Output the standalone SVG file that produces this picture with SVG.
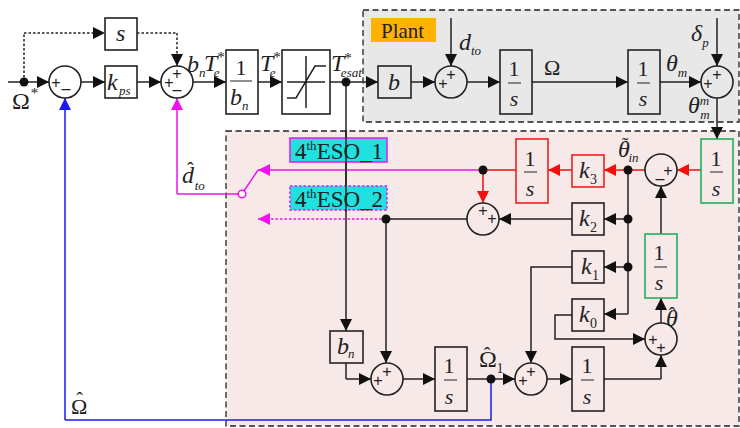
<svg xmlns="http://www.w3.org/2000/svg" width="740" height="428" viewBox="0 0 740 428">
<defs>
<marker id="ak" markerUnits="userSpaceOnUse" markerWidth="14" markerHeight="14" refX="13" refY="7" orient="auto"><path d="M1 1L13 7L1 13Z" fill="#111"/></marker>
<marker id="ar" markerUnits="userSpaceOnUse" markerWidth="14" markerHeight="14" refX="13" refY="7" orient="auto"><path d="M1 1L13 7L1 13Z" fill="#f01010"/></marker>
<marker id="am" markerUnits="userSpaceOnUse" markerWidth="14" markerHeight="14" refX="13" refY="7" orient="auto"><path d="M1 1L13 7L1 13Z" fill="#f010f0"/></marker>
<marker id="ab" markerUnits="userSpaceOnUse" markerWidth="14" markerHeight="14" refX="13" refY="7" orient="auto"><path d="M1 1L13 7L1 13Z" fill="#1a1af0"/></marker>
</defs>
<style>
text{font-family:"Liberation Serif","Times New Roman",serif;fill:#222}
.i{font-style:italic}
.b{fill:#fff;stroke:#222;stroke-width:1.6}
.t{fill:none;stroke:#222;stroke-width:1.6}
.rb{fill:none;stroke:#f02020;stroke-width:1.6}
.gb{fill:none;stroke:#20b060;stroke-width:1.6}
.c{fill:#fff;stroke:#222;stroke-width:1.6}
.cp{fill:none;stroke:#222;stroke-width:1.6}
.k{fill:none;stroke:#222;stroke-width:1.5}
.ka{fill:none;stroke:#222;stroke-width:1.5;marker-end:url(#ak)}
.d{stroke-dasharray:2.5 2}
.r{fill:none;stroke:#f01010;stroke-width:1.5}
.ra{fill:none;stroke:#f01010;stroke-width:1.5;marker-end:url(#ar)}
.m{fill:none;stroke:#f010f0;stroke-width:1.5}
.ma{fill:none;stroke:#f010f0;stroke-width:1.5;marker-end:url(#am)}
.bl{fill:none;stroke:#1a1af0;stroke-width:1.5}
.ba{fill:none;stroke:#1a1af0;stroke-width:1.5;marker-end:url(#ab)}
.j{fill:#111}
.f{font-size:24px}
.n{font-size:22px}
.sub{font-size:13px;font-style:italic}
.sup{font-size:15px;font-style:normal}
.sy{font-size:16px;font-family:"Liberation Sans",sans-serif;text-anchor:middle}
.bar{stroke:#222;stroke-width:1}
.e{font-size:23px}
.e2{font-size:13px}
.hat{font-size:20px;font-style:normal}
</style>
<g id="panels">
<rect x="363" y="10" width="376" height="112" fill="#e8e8e8" stroke="#222" stroke-width="1.3" stroke-dasharray="6 3.5"/>
<rect x="226" y="131" width="513" height="295" fill="#f6e9e8" stroke="#222" stroke-width="1.3" stroke-dasharray="6 3.5"/>
<rect x="371" y="18" width="65" height="24" fill="#ffb300"/>
<text x="381" y="38" font-size="21">Plant</text>
</g>
<g id="connectors">
<path class="k" d="M8 82H24"/><path class="ka" d="M24 82H49"/>
<path class="k d" d="M24 82V33"/><path class="ka d" d="M24 33H105"/>
<path class="k d" d="M137 33H177"/><path class="ka d" d="M177 33V66"/>
<path class="ka" d="M81 82H105"/><path class="ka" d="M137 82H161"/>
<path class="ka" d="M193 82H226"/><path class="ka" d="M258 82H282"/>
<path class="ka" d="M330 82H378"/><path class="ka" d="M411 82H435"/>
<path class="ka" d="M467 82H500"/><path class="ka" d="M532 82H628"/>
<path class="ka" d="M660 82H701"/>
<path class="ka" d="M451 18V66"/><path class="ka" d="M717 18V66"/>
<path class="ka" d="M717 98V139"/>
<path class="ka" d="M346 82V331"/>
<path class="k" d="M346 363V379"/><path class="ka" d="M346 379H371"/>
<path class="ka" d="M403 379H435"/><path class="k" d="M467 379H491"/><path class="ka" d="M491 379H515"/>
<path class="ka" d="M547 379H572"/>
<path class="k" d="M604 379H661"/><path class="ka" d="M661 379V355"/>
<path class="ka" d="M661 323V298"/>
<path class="ka" d="M661 234V186"/>
<path class="ra" d="M701 170H677"/>
<path class="r" d="M645 170H628"/><path class="ra" d="M628 170H604"/>
<path class="ra" d="M572 170H548"/>
<path class="r" d="M516 170H483"/><path class="ra" d="M483 170V203"/>
<path class="k" d="M628 170V314"/>
<path class="ka" d="M628 219H604"/><path class="ka" d="M628 267H604"/><path class="ka" d="M628 314H604"/>
<path class="ka" d="M572 219H499"/>
<path class="k" d="M467 219H386"/><path class="ka" d="M386 219V363"/>
<path class="ma d" d="M386 219H258"/>
<path class="ma" d="M483 170H258"/>
<path class="m" d="M258 170L242 194"/>
<path class="m" d="M242 194H177"/><path class="ma" d="M177 194V98"/>
<path class="ka" d="M572 267H531V363"/>
<path class="ka" d="M572 315H555V339H645"/>
<path class="bl" d="M491 379V420H65"/><path class="ba" d="M65 420V98"/>
<circle class="j" cx="24" cy="82" r="4.5"/><circle class="j" cx="346" cy="82" r="4.5"/>
<circle class="j" cx="483" cy="170" r="4.5"/><circle class="j" cx="628" cy="170" r="4.5"/>
<circle class="j" cx="628" cy="219" r="4.5"/><circle class="j" cx="628" cy="267" r="4.5"/>
<circle class="j" cx="386" cy="219" r="4.5"/><circle class="j" cx="491" cy="379" r="4.5"/>
<circle cx="242" cy="194" r="3.8" fill="#fff" stroke="#f010f0" stroke-width="1.5"/>
</g>
<g id="eso1"><rect x="290" y="138" width="97" height="24" fill="#20e0e0" stroke="#f010f0" stroke-width="1.5"/><text x="295" y="159" class="e">4<tspan class="e2" dy="-9">th</tspan><tspan dy="9">ESO_1</tspan></text></g>
<g id="eso2"><rect x="290" y="186" width="97" height="24" fill="#20e0e0" stroke="#f010f0" stroke-width="1.5" stroke-dasharray="2.5 2"/><text x="295" y="207" class="e">4<tspan class="e2" dy="-9">th</tspan><tspan dy="9">ESO_2</tspan></text></g>
<path d="M346 130V212" class="k"/>
<g id="sum1"><circle class="c" cx="65" cy="82" r="16"/><text x="56" y="88" class="sy">+</text><text x="66" y="94" class="sy">–</text></g>
<g id="sum2"><circle class="c" cx="177" cy="82" r="16"/><text x="169" y="88" class="sy">+</text><text x="177" y="79" class="sy">+</text><text x="177" y="95" class="sy">–</text></g>
<g id="sum3"><circle class="cp" cx="451" cy="82" r="16"/><text x="443" y="89" class="sy">+</text><text x="451" y="80" class="sy">+</text></g>
<g id="sum4"><circle class="cp" cx="717" cy="82" r="16"/><text x="708" y="89" class="sy">+</text><text x="717" y="80" class="sy">+</text></g>
<g id="sum5"><circle class="cp" cx="661" cy="170" r="16"/><text x="668" y="176" class="sy">+</text><text x="660" y="184" class="sy">–</text></g>
<g id="sum6"><circle class="cp" cx="483" cy="219" r="16"/><text x="483" y="216" class="sy">+</text><text x="492" y="224" class="sy">+</text></g>
<g id="sum7"><circle class="cp" cx="661" cy="339" r="16"/><text x="653" y="345" class="sy">+</text><text x="661" y="353" class="sy">+</text></g>
<g id="sum8"><circle class="cp" cx="387" cy="379" r="16"/><text x="378" y="386" class="sy">+</text><text x="387" y="377" class="sy">+</text></g>
<g id="sum9"><circle class="cp" cx="531" cy="379" r="16"/><text x="523" y="386" class="sy">+</text><text x="531" y="377" class="sy">+</text></g>
<g id="s"><rect class="b" x="105" y="18" width="32" height="32"/><text x="116" y="41" class="i f">s</text></g>
<g id="kps"><rect class="b" x="105" y="66" width="32" height="32"/><text x="107" y="90" class="i f">k</text><text x="119" y="95" class="sub">ps</text></g>
<g id="invbn"><rect class="b" x="226" y="50" width="32" height="64"/><text x="241" y="75" class="n" text-anchor="middle">1</text><line class="bar" x1="230" y1="81" x2="252" y2="81"/><text x="230" y="105" class="i f">b</text><text x="242" y="110" class="sub">n</text></g>
<g id="sat"><rect class="b" x="282" y="50" width="48" height="64"/><path class="k" d="M287 82H325M306 56V108M287 98H296L315 66H326"/></g>
<g id="b"><rect x="378" y="66" width="33" height="32" fill="none" stroke="#222" stroke-width="1.6"/><text x="388" y="90" class="i f">b</text></g>
<g id="int1"><rect class="t" x="500" y="50" width="32" height="64"/><text x="514" y="76" class="n" text-anchor="middle">1</text><line class="bar" x1="508" y1="83" x2="521" y2="83"/><text x="514" y="106" class="i n" text-anchor="middle">s</text></g>
<g id="int2"><rect class="t" x="628" y="50" width="32" height="64"/><text x="643" y="76" class="n" text-anchor="middle">1</text><line class="bar" x1="637" y1="83" x2="650" y2="83"/><text x="643" y="106" class="i n" text-anchor="middle">s</text></g>
<g id="intg1"><rect class="gb" x="701" y="139" width="32" height="64"/><text x="716" y="166" class="n" text-anchor="middle">1</text><line class="bar" x1="710" y1="172" x2="723" y2="172"/><text x="716" y="196" class="i n" text-anchor="middle">s</text></g>
<g id="intr"><rect class="rb" x="516" y="139" width="32" height="64"/><text x="530" y="166" class="n" text-anchor="middle">1</text><line class="bar" x1="524" y1="172" x2="537" y2="172"/><text x="530" y="196" class="i n" text-anchor="middle">s</text></g>
<g id="k3"><rect class="rb" x="572" y="155" width="32" height="32"/><text x="579" y="178" class="i f">k</text><text x="590" y="184" font-size="14">3</text></g>
<g id="k2"><rect class="t" x="572" y="203" width="32" height="32"/><text x="579" y="226" class="i f">k</text><text x="590" y="232" font-size="14">2</text></g>
<g id="k1"><rect class="t" x="572" y="251" width="32" height="32"/><text x="581" y="274" class="i f">k</text><text x="592" y="280" font-size="14">1</text></g>
<g id="k0"><rect class="t" x="572" y="299" width="32" height="32"/><text x="579" y="322" class="i f">k</text><text x="590" y="328" font-size="14">0</text></g>
<g id="intg2"><rect class="gb" x="645" y="234" width="32" height="64"/><text x="659" y="260" class="n" text-anchor="middle">1</text><line class="bar" x1="654" y1="267" x2="667" y2="267"/><text x="659" y="290" class="i n" text-anchor="middle">s</text></g>
<g id="int3"><rect class="t" x="572" y="347" width="32" height="64"/><text x="587" y="373" class="n" text-anchor="middle">1</text><line class="bar" x1="581" y1="380" x2="594" y2="380"/><text x="587" y="404" class="i n" text-anchor="middle">s</text></g>
<g id="int4"><rect class="t" x="435" y="347" width="32" height="64"/><text x="449" y="373" class="n" text-anchor="middle">1</text><line class="bar" x1="444" y1="380" x2="457" y2="380"/><text x="449" y="404" class="i n" text-anchor="middle">s</text></g>
<g id="bn"><rect class="t" x="330" y="331" width="33" height="32"/><text x="337" y="354" class="i f">b</text><text x="348" y="358" class="sub">n</text></g>
<g id="labels">
<text x="12" y="109" font-size="24">Ω<tspan class="sup" dx="1" dy="-11">*</tspan></text>
<text x="187" y="72" class="i f">b<tspan class="sub" dy="5">n</tspan></text>
<text x="204" y="71" class="i f">T<tspan class="sup" dx="0" dy="-9">*</tspan><tspan class="sub" dx="-11" dy="15">e</tspan></text>
<text x="260" y="71" class="i f">T<tspan class="sup" dx="0" dy="-9">*</tspan><tspan class="sub" dx="-11" dy="15">e</tspan></text>
<text x="331" y="71" class="i f">T<tspan class="sup" dx="0" dy="-8">*</tspan><tspan class="sub" dx="-11" dy="14">esat</tspan></text>
<text x="182" y="183" class="i f">d<tspan class="hat" dx="-7" dy="-6">ˆ</tspan><tspan class="sub" dx="1" dy="13">to</tspan></text>
<text x="459" y="50" class="i f">d<tspan class="sub" dy="5">to</tspan></text>
<text x="544" y="75" font-size="22">Ω</text>
<text x="666" y="71" class="i f">θ<tspan class="sub" dy="6">m</tspan></text>
<text x="691" y="41" class="i f">δ<tspan class="sub" dy="6">p</tspan></text>
<text x="688" y="113" class="i f">θ<tspan class="sub" dy="-8">m</tspan><tspan class="sub" dx="-9" dy="14">m</tspan></text>
<text x="618" y="157" class="i f">θ<tspan class="hat" dx="-8" dy="-5">˜</tspan><tspan class="sub" dy="10">in</tspan></text>
<text x="666" y="326" class="i f">θ<tspan class="hat" dx="-9" dy="-4">ˆ</tspan></text>
<text x="479" y="367" font-size="24">Ω<tspan class="hat" dx="-13" dy="-5">ˆ</tspan><tspan font-size="14" dx="6" dy="11">1</tspan></text>
<text x="71" y="414" font-size="22">Ω<tspan class="hat" dx="-11" dy="-7">ˆ</tspan></text>
</g>
</svg>
